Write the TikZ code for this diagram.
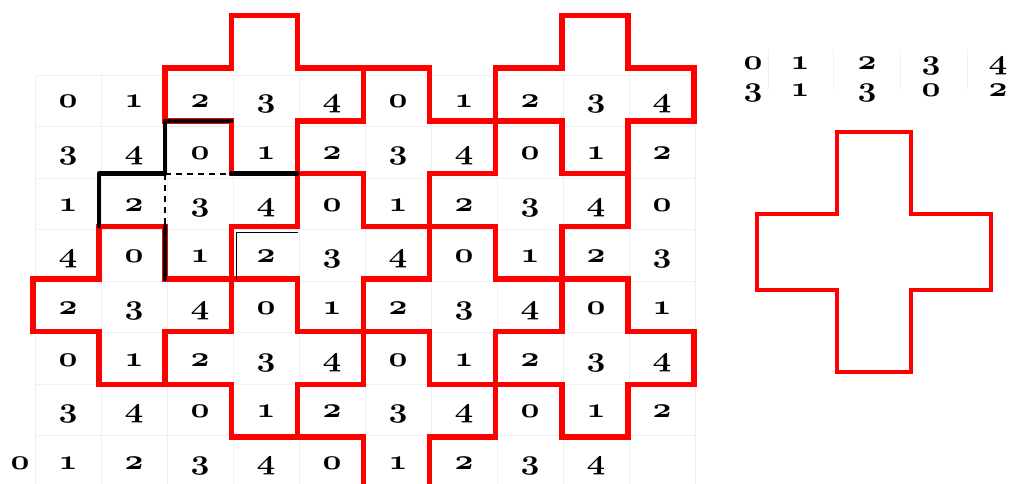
\documentclass[tikz,border=0pt]{standalone}
\usepackage{graphicx}
\newcommand\dgt[1]{\scalebox{1.32}[1.12]{\fontsize{24.88}{28}\usefont{OML}{cmm}{b}{it}#1}}
\tikzset{
  digit/.style={anchor=base, inner sep=0pt, outer sep=0pt},
  faint/.style={draw=black!6, line width=0.6pt},
  redline/.style={draw=red, line width=5.5pt, line join=miter},
  blackline/.style={draw=black, line width=4.5pt, line cap=round, line join=round},
  blackdash/.style={draw=black, line width=2pt, dash pattern=on 6pt off 5pt},
  thinblack/.style={draw=black, line width=0.9pt},
  bigcross/.style={draw=red, line width=4pt, line join=miter}
}
\begin{document}
\begin{tikzpicture}[x=1pt,y=-1pt]
\useasboundingbox (0,0) rectangle (1011,484);
\fill[white] (0,0) rectangle (1011,484);
% faint cell grid
\foreach \j in {0,...,10} \draw[faint] ({35+66*\j},75) -- ({35+66*\j},487);
\foreach \k in {0,...,8} \draw[faint] (35,{75+51.5*\k}) -- (695,{75+51.5*\k});
\foreach \xx in {768,833,900,967} \draw[faint] (\xx,50) -- (\xx,90);
% digits of the grid
\foreach \r in {1,...,7} {
  \foreach \c in {1,...,10} {
    \pgfmathtruncatemacro\v{mod(\c-1+3*(\r-1),5)}
    \pgfmathsetmacro\bx{68+66*(\c-1)}
    \pgfmathsetmacro\by{108+51.6*(\r-1)}
    \node[digit] (d-\r-\c) at (\bx,\by) {\dgt{\v}};
  }
}
\foreach \c in {1,...,9} {
  \pgfmathtruncatemacro\v{mod(\c-1+21,5)}
  \pgfmathsetmacro\bx{68+66*(\c-1)}
  \node[digit] (d-8-\c) at (\bx,469) {\dgt{\v}};
}
\node[digit] (d-8-0) at (20,469) {\dgt{0}};
% key digits, top right
\foreach \xx/\a/\b [count=\i] in {753/0/3,800/1/1,867/2/3,931/3/0,998/4/2} {
  \node[digit] (ka-\i) at (\xx,70) {\dgt{\a}};
  \node[digit] (kb-\i) at (\xx,97) {\dgt{\b}};
}
% red crosses of the tiling
\foreach \r/\c in {1/4,1/9,2/6,3/8,4/5,5/2,5/7,6/4,6/9,7/6} {
  \pgfmathsetmacro\xa{33+66.1*(\c-2)}
  \pgfmathsetmacro\xb{33+66.1*(\c-1)}
  \pgfmathsetmacro\xc{33+66.1*(\c)}
  \pgfmathsetmacro\xd{33+66.1*(\c+1)}
  \pgfmathsetmacro\ya{15.5+52.7*(\r-1)}
  \pgfmathsetmacro\yb{15.5+52.7*(\r)}
  \pgfmathsetmacro\yc{15.5+52.7*(\r+1)}
  \pgfmathsetmacro\yd{15.5+52.7*(\r+2)}
  \draw[redline] (\xb,\ya) -- (\xc,\ya) -- (\xc,\yb) -- (\xd,\yb) -- (\xd,\yc) -- (\xc,\yc) -- (\xc,\yd) -- (\xb,\yd) -- (\xb,\yc) -- (\xa,\yc) -- (\xa,\yb) -- (\xb,\yb) -- cycle;
}
% thin black trace
\draw[thinblack] (236,280) -- (236,232) -- (298,232);
% black outline of the marked cross
\draw[blackline] (99.1,226.3) -- (99.1,173.6) -- (165.2,173.6) -- (165.2,120.9) -- (231.3,120.9);
\draw[blackline] (231.3,173.6) -- (297.4,173.6);
\draw[blackline] (165.2,226.3) -- (165.2,279);
\draw[blackdash] (165.2,173.6) -- (231.3,173.6);
\draw[blackdash] (165.2,173.6) -- (165.2,226.3);
% single cross on the right
\draw[bigcross] (837,132) -- (911,132) -- (911,214) -- (991,214) -- (991,290) -- (911,290) -- (911,372) -- (837,372) -- (837,290) -- (757,290) -- (757,214) -- (837,214) -- cycle;
\end{tikzpicture}
\end{document}
